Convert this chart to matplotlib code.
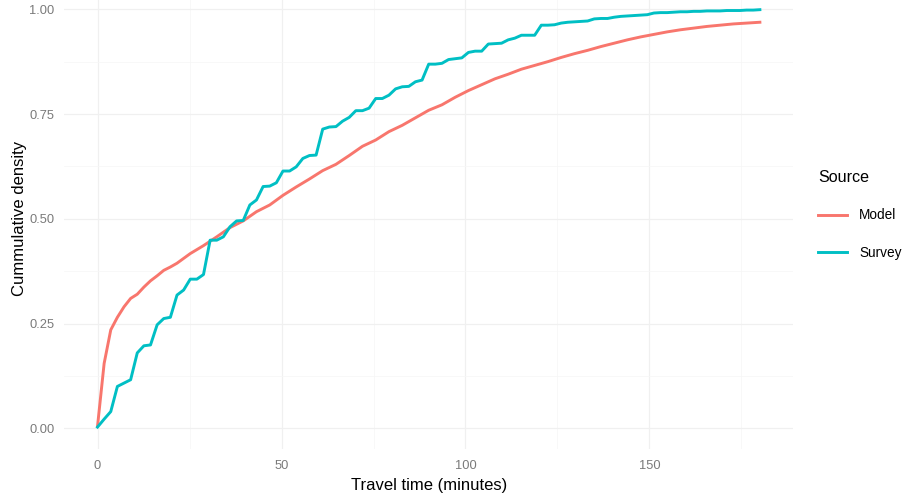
import numpy as np
import matplotlib
matplotlib.use("Agg")
import matplotlib.pyplot as plt
from matplotlib.ticker import MultipleLocator

plt.rcParams['font.family'] = ['Liberation Sans', 'DejaVu Sans']

# Survey: cumulative share evaluated every 1.8 minutes (0 .. 180)
survey_time = np.linspace(0, 180, 101)
survey_cdf = [
    0.003, 0.022, 0.040, 0.100, 0.108, 0.116, 0.180, 0.197, 0.199, 0.247,
    0.262, 0.265, 0.318, 0.330, 0.356, 0.356, 0.367, 0.449, 0.449, 0.457,
    0.481, 0.495, 0.496, 0.533, 0.545, 0.577, 0.578, 0.586, 0.614, 0.614,
    0.624, 0.644, 0.651, 0.652, 0.714, 0.719, 0.720, 0.733, 0.742, 0.758,
    0.758, 0.764, 0.787, 0.787, 0.795, 0.810, 0.815, 0.816, 0.827, 0.831,
    0.869, 0.869, 0.871, 0.880, 0.882, 0.884, 0.897, 0.900, 0.900, 0.917,
    0.918, 0.919, 0.927, 0.931, 0.938, 0.938, 0.938, 0.962, 0.962, 0.963,
    0.967, 0.969, 0.970, 0.971, 0.972, 0.977, 0.978, 0.978, 0.981, 0.983,
    0.984, 0.985, 0.986, 0.987, 0.991, 0.992, 0.992, 0.993, 0.994, 0.994,
    0.995, 0.995, 0.996, 0.996, 0.996, 0.997, 0.997, 0.997, 0.998, 0.998,
    0.999,
]

# Model: smooth curve, read at fewer points
model_time = [0, 1.8, 3.6, 5.4, 7.2, 9, 10.8, 12.6, 14.4, 16.2, 18, 19.8, 21.6,
              25.2, 28.8, 32.4, 36, 39.6, 43.2, 46.8, 50.4, 54, 57.6, 61.2,
              64.8, 68.4, 72, 75.6, 79.2, 82.8, 86.4, 90, 93.6, 97.2, 100.8,
              104.4, 108, 111.6, 115.2, 118.8, 122.4, 126, 129.6, 133.2, 136.8,
              140.4, 144, 147.6, 151.2, 154.8, 158.4, 162, 165.6, 169.2, 172.8,
              176.4, 180]
model_cdf = [0.005, 0.155, 0.235, 0.265, 0.290, 0.310, 0.320, 0.337, 0.352,
             0.364, 0.377, 0.385, 0.394, 0.417, 0.436, 0.457, 0.479, 0.495,
             0.517, 0.533, 0.556, 0.576, 0.595, 0.615, 0.630, 0.651, 0.673,
             0.688, 0.708, 0.723, 0.741, 0.759, 0.772, 0.790, 0.806, 0.820,
             0.834, 0.845, 0.857, 0.866, 0.875, 0.885, 0.894, 0.902, 0.911,
             0.919, 0.927, 0.934, 0.940, 0.946, 0.951, 0.955, 0.959, 0.962,
             0.965, 0.967, 0.969]

W, H = 908, 495
fig = plt.figure(figsize=(W / 100, H / 100), dpi=100)
# panel in pixels: left 64.4, right 793, top -11.7, bottom 449.3
ax = fig.add_axes([64.4 / W, 1 - 449.3 / H, (793 - 64.4) / W, (449.3 + 11.7) / H])

ax.plot(model_time, model_cdf, color='#F8766D', lw=2.1, label='Model')
ax.plot(survey_time, survey_cdf, color='#00BFC4', lw=2.1, label='Survey')

ax.set_xlim(-9, 189)
ax.set_ylim(-0.05, 1.05)
ax.xaxis.set_major_locator(MultipleLocator(50))
ax.xaxis.set_minor_locator(MultipleLocator(25))
ax.yaxis.set_major_locator(MultipleLocator(0.25))
ax.yaxis.set_minor_locator(MultipleLocator(0.125))
ax.yaxis.set_major_formatter(matplotlib.ticker.FormatStrFormatter('%.2f'))

ax.grid(which='major', color='#F0F0F0', lw=0.9)
ax.grid(which='minor', color='#F6F6F6', lw=0.5)
ax.set_axisbelow(True)
for s in ax.spines.values():
    s.set_visible(False)
ax.tick_params(which='both', length=0, labelsize=9.3, labelcolor='#7A7A7A')
ax.tick_params(axis='y', pad=7)
ax.tick_params(axis='x', pad=8)

ax.set_xlabel('Travel time (minutes)', fontsize=12, labelpad=4)
ax.set_ylabel('Cummulative density', fontsize=12, labelpad=2)

leg = ax.legend(title='Source', loc='upper left',
                bbox_transform=fig.transFigure,
                bbox_to_anchor=(806 / W, 1 - 158 / H),
                frameon=False, fontsize=9.8, title_fontsize=11.6,
                handlelength=2.1, handletextpad=0.9, labelspacing=1.7)
leg._legend_box.align = 'left'

fig.savefig('out.png', dpi=100)
